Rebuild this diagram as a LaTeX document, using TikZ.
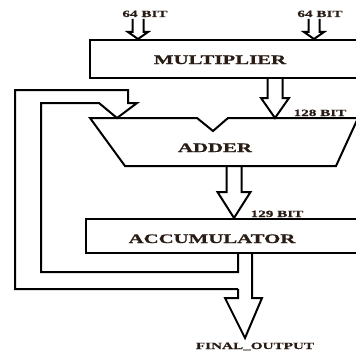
\documentclass[tikz,border=0pt]{standalone}
\usepackage{fontspec}
\newfontfamily\blockfont[FakeStretch=1.6,FakeBold=0.6]{Liberation Serif}
\usetikzlibrary{positioning,calc}
\definecolor{ink}{RGB}{40,28,20}

\tikzset{
  wire/.style={line width=2pt, line join=miter},
  blockbox/.style={draw, line width=2pt, inner sep=0pt},
  biglabel/.style={anchor=base, text=ink, inner sep=0pt, font=\blockfont\bfseries\fontsize{13}{13}\selectfont},
  smalllabel/.style={anchor=base, text=ink, inner sep=0pt, font=\blockfont\bfseries\fontsize{9.5}{9.5}\selectfont},
}

% open-topped block arrow: start, tip, half shaft, half head, head length
\newcommand{\fatarrow}[5]{%
  \draw[wire] ($(#1)+(-#3,0)$) -- ($(#2)+(-#3,-#5)$) -- ($(#2)+(-#4,-#5)$) -- (#2)
    -- ($(#2)+(#4,-#5)$) -- ($(#2)+(#3,-#5)$) -- ($(#1)+(#3,0)$);}

\begin{document}
\begin{tikzpicture}[x=1pt,y=-1pt]
    \useasboundingbox (0,0) rectangle (356,353);
    \clip (0,0) rectangle (356,353);

    % blocks
    \node[blockbox, minimum width=272pt, minimum height=38pt] (mult) at (226,59) {};
    \node[blockbox, minimum width=276pt, minimum height=34pt] (acc) at (224,236) {};
    \draw[wire] (90,118) -- (197,118) -- (213,131) -- (228,118) -- (358,118)
        -- (336,166) -- (125,166) -- cycle;

    \node[biglabel] (multtxt) at (220,64) {MULTIPLIER};
    \node[biglabel] (addtxt) at (215,152) {ADDER};
    \node[biglabel] (acctxt) at (212,243) {ACCUMULATOR};

    % inputs
    \coordinate (ina) at (138,19);
    \coordinate (inb) at (314,19);
    \fatarrow{ina}{mult.north -| ina}{5.5}{10}{7}
    \fatarrow{inb}{mult.north -| inb}{5.5}{10}{7}
    \node[smalllabel] (labina) at (145,17) {64 BIT};
    \node[smalllabel] (labinb) at (320,17) {64 BIT};

    % multiplier to adder
    \coordinate (prod) at (275,78);
    \coordinate (prodtip) at (275,118);
    \fatarrow{prod}{prodtip}{7.5}{14}{20}
    \node[smalllabel] (labprod) at (320,116) {128 BIT};

    % adder to accumulator
    \coordinate (sum) at (234,166);
    \fatarrow{sum}{acc.north -| sum}{7.5}{16.5}{26}
    \node[smalllabel] (labsum) at (277,217) {129 BIT};

    % feedback
    \coordinate (fbtip) at (117,118);
    \draw[wire] (238,289) -| (15,90) -| (128,103) -- (137,103) -- (fbtip)
        -- (99,103) -| (41,272) -| (238,253);

    % output
    \coordinate (outtip) at (245,338);
    \draw[wire] (252,253) -- (252,298) -- (262,298) -- (outtip) -- (225,298)
        -- (238,298) -- (238,289);
    \node[smalllabel] (labout) at (255,349) {FINAL\_OUTPUT};
\end{tikzpicture}
\end{document}
